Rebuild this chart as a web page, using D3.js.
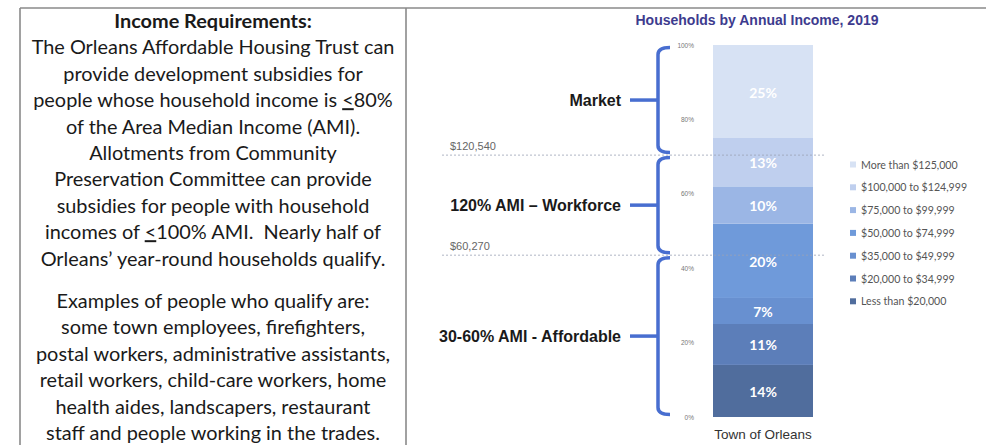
<!DOCTYPE html>
<html>
<head>
<meta charset="utf-8">
<script src="https://cdn.jsdelivr.net/npm/d3@7"></script>
<style>
  body { margin: 0; background: #fff; }
  svg { display: block; }
</style>
</head>
<body>
<div id="canvas"></div>
<script>
// data
const categories = ["Town of Orleans"];
const incomeBands = ["Less than $20,000", "$20,000 to $34,999", "$35,000 to $49,999",
  "$50,000 to $74,999", "$75,000 to $99,999", "$100,000 to $124,999", "More than $125,000"];
const shares = [14, 11, 7, 20, 10, 13, 25];
const bandColors = ["#506d9d", "#5c7eb9", "#6890d0", "#6f9ada", "#9bb6e5", "#bfcfee", "#d7e2f4"];
const yTicks = [0, 20, 40, 60, 80, 100];
const thresholds = [
  { label: "$120,540", pct: 70.4 },
  { label: "$60,270", pct: 43.5 }
];
const groups = [
  { name: "Market", from: 70.4, to: 100 },
  { name: "120% AMI \u2013 Workforce", from: 43.5, to: 70.4 },
  { name: "30-60% AMI - Affordable", from: 0, to: 43.5 }
];
const title = "Households by Annual Income, 2019";
const leftText = [
  [{ t: "Income Requirements:", b: true }],
  [{ t: "The Orleans Affordable Housing Trust can" }],
  [{ t: "provide development subsidies for" }],
  [{ t: "people whose household income is " }, { t: "<", u: true }, { t: "80%" }],
  [{ t: "of the Area Median Income (AMI)." }],
  [{ t: "Allotments from Community" }],
  [{ t: "Preservation Committee can provide" }],
  [{ t: "subsidies for people with household" }],
  [{ t: "incomes of " }, { t: "<", u: true }, { t: "100% AMI.\u00a0 Nearly half of" }],
  [{ t: "Orleans\u2019 year-round households qualify." }],
  null,
  [{ t: "Examples of people who qualify are:" }],
  [{ t: "some town employees, firefighters," }],
  [{ t: "postal workers, administrative assistants," }],
  [{ t: "retail workers, child-care workers, home" }],
  [{ t: "health aides, landscapers, restaurant" }],
  [{ t: "staff and people working in the trades." }]
];

const W = 986, H = 445;
const svg = d3.select("#canvas").append("svg")
  .attr("width", W).attr("height", H)
  .style("font-family", "'Liberation Sans', Arial, sans-serif");

// frame
const frame = svg.append("g").attr("stroke", "#8a8a8a").attr("stroke-width", 1.6);
frame.append("line").attr("x1", 20).attr("x2", W).attr("y1", 8).attr("y2", 8);
frame.append("line").attr("x1", 20).attr("x2", 20).attr("y1", 8).attr("y2", H);
frame.append("line").attr("x1", 406).attr("x2", 406).attr("y1", 8).attr("y2", H);

// left text block
const txt = svg.append("text")
  .attr("text-anchor", "middle")
  .attr("fill", "#1a1a1a")
  .style("font-family", "Lato, 'Open Sans', sans-serif")
  .style("font-size", "17px");
let baseY = 28, lineGap = 26.4;
leftText.forEach((parts, i) => {
  if (!parts) { baseY += 16; return; }
  const line = txt.append("tspan").attr("x", 213).attr("y", baseY);
  parts.forEach(p => {
    const s = line.append("tspan").text(p.t);
    if (p.b) s.style("font-weight", "bold");
    if (p.u) s.style("text-decoration", "underline");
  });
  baseY += lineGap;
});
// fit widest line to the picture's 363px
const widest = d3.max(txt.selectAll(":scope > tspan").nodes(), n => n.getComputedTextLength());
txt.style("font-size", (17 * 363 / widest).toFixed(2) + "px");

// chart scales
const y = d3.scaleLinear().domain([0, 100]).range([417, 45]);
const x = d3.scaleBand().domain(categories).range([713, 813]).padding(0);
const color = d3.scaleOrdinal().domain(incomeBands).range(bandColors);

const stackData = [Object.fromEntries(incomeBands.map((b, i) => [b, shares[i]]))];
const series = d3.stack().keys(incomeBands)(stackData);

// title
svg.append("text")
  .attr("x", 757).attr("y", 25)
  .attr("text-anchor", "middle")
  .attr("fill", "#3d3b8e")
  .style("font-size", "14px").style("font-weight", "bold")
  .text(title);

// bars
const bars = svg.append("g");
bars.selectAll("rect").data(series).join("rect")
  .attr("x", x(categories[0]))
  .attr("width", x.bandwidth())
  .attr("y", d => y(d[0][1]))
  .attr("height", d => y(d[0][0]) - y(d[0][1]))
  .attr("fill", d => color(d.key));
bars.selectAll("text").data(series).join("text")
  .attr("x", x(categories[0]) + x.bandwidth() / 2)
  .attr("y", d => (y(d[0][0]) + y(d[0][1])) / 2 + 6)
  .attr("text-anchor", "middle")
  .attr("fill", "#fff")
  .style("font-family", "Lato, sans-serif")
  .style("font-size", "14px").style("font-weight", "bold")
  .text((d, i) => shares[i] + "%");

// y axis
const yAxis = svg.append("g")
  .attr("transform", "translate(694,0)")
  .call(d3.axisLeft(y).tickValues(yTicks).tickSize(0).tickPadding(0).tickFormat(d => d + "%"));
yAxis.select(".domain").remove();
yAxis.selectAll("text").attr("fill", "#777").style("font-size", "6.5px");

// x axis
const xAxis = svg.append("g")
  .attr("transform", "translate(0,417)")
  .call(d3.axisBottom(x).tickSize(0).tickPadding(12));
xAxis.select(".domain").remove();
xAxis.selectAll("text").attr("fill", "#333").style("font-size", "13.5px");

// threshold lines
const th = svg.append("g");
th.selectAll("line").data(thresholds).join("line")
  .attr("x1", 442).attr("x2", 826)
  .attr("y1", d => y(d.pct)).attr("y2", d => y(d.pct))
  .attr("stroke", "#9aa3b5").attr("stroke-width", 0.8)
  .attr("stroke-dasharray", "2,2");
th.selectAll("text").data(thresholds).join("text")
  .attr("x", 450).attr("y", d => y(d.pct) - 5)
  .attr("fill", "#666")
  .style("font-size", "11px")
  .text(d => d.label);

// braces
const bx = 658, hook = 12, inset = 2.5;
const br = svg.append("g");
br.selectAll("path.brace").data(groups).join("path")
  .attr("class", "brace")
  .attr("d", d => {
    const y1 = y(d.to) + inset, y2 = y(d.from) - inset;
    return `M${bx + hook},${y1} Q${bx},${y1} ${bx},${y1 + 7} L${bx},${y2 - 7} Q${bx},${y2} ${bx + hook},${y2}`;
  })
  .attr("fill", "none").attr("stroke", "#486ed0").attr("stroke-width", 3.5);
br.selectAll("line").data(groups).join("line")
  .attr("x1", 630).attr("x2", bx)
  .attr("y1", d => y((d.from + d.to) / 2)).attr("y2", d => y((d.from + d.to) / 2))
  .attr("stroke", "#486ed0").attr("stroke-width", 3.5);
br.selectAll("text").data(groups).join("text")
  .attr("x", 621).attr("y", d => y((d.from + d.to) / 2) + 5.5)
  .attr("text-anchor", "end")
  .attr("fill", "#1a1a1a")
  .style("font-size", "16px").style("font-weight", "bold")
  .text(d => d.name);

// legend, top band first
const legend = svg.append("g").attr("transform", "translate(850,165)");
const items = legend.selectAll("g").data(incomeBands.slice().reverse()).join("g")
  .attr("transform", (d, i) => `translate(0,${i * 22.8})`);
items.append("rect").attr("x", 0).attr("y", -3.5).attr("width", 6).attr("height", 6)
  .attr("fill", d => color(d));
items.append("text").attr("x", 11).attr("y", 3.5)
  .attr("fill", "#555")
  .style("font-family", "Lato, sans-serif")
  .style("font-size", "10.6px")
  .text(d => d);
</script>
</body>
</html>
